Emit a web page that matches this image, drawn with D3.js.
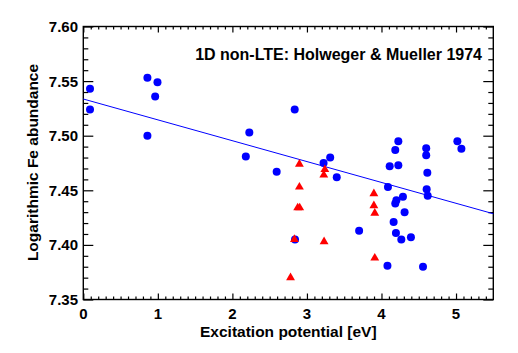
<!DOCTYPE html>
<html>
<head>
<meta charset="utf-8">
<script src="https://cdn.jsdelivr.net/npm/d3@7"></script>
<style>
  body { margin: 0; background: #fff; }
  text { font-family: "Liberation Sans", Arial, Helvetica, sans-serif; font-weight: bold; }
</style>
</head>
<body>
<script>
"use strict";
// blue circles: excitation potential [eV], log Fe abundance
const blueChi = [0.09, 0.09, 0.86, 0.995, 0.964, 0.86, 2.227, 2.18, 2.836, 2.594,
  3.223, 3.312, 3.40, 4.11, 4.226, 4.185, 4.226, 4.60, 4.60, 4.615,
  5.018, 5.072, 4.087, 4.606, 4.62, 4.288, 4.20, 4.185, 4.31, 4.163,
  3.70, 4.194, 4.266, 4.395, 2.84, 4.08, 4.557]
const blueAbund = [7.543, 7.524, 7.553, 7.549, 7.536, 7.500, 7.503, 7.481, 7.524, 7.467,
  7.475, 7.480, 7.462, 7.472, 7.473, 7.487, 7.495, 7.4885, 7.482, 7.466,
  7.495, 7.488, 7.453, 7.451, 7.445, 7.444, 7.441, 7.438, 7.430, 7.421,
  7.413, 7.411, 7.405, 7.407, 7.405, 7.381, 7.380]
// red triangles
const redChi = [2.899, 3.24, 3.226, 2.899, 2.876, 2.903, 2.832, 2.78, 3.23,
  3.898, 3.898, 3.91, 3.91]
const redAbund = [7.474, 7.469, 7.464, 7.453, 7.434, 7.434, 7.405, 7.370, 7.403,
  7.447, 7.436, 7.429, 7.388]
// linear fit of the blue points
const fitIntercept = 7.5336
const fitSlope = -0.0191
const xTicks = [0, 1, 2, 3, 4, 5]
const yTicks = [7.35, 7.40, 7.45, 7.50, 7.55, 7.60]
const title = "1D non-LTE: Holweger & Mueller 1974"

;(function(){
  let m = {width: 518, height: 353, left: 83.3, right: 493.3, top: 26.5, bottom: 299.5}

  const svg = d3.select("body").append("svg")
      .attr("width", m.width)
      .attr("height", m.height)

  let x = d3.scaleLinear().domain([0, 5.5]).range([m.left, m.right])
  let y = d3.scaleLinear().domain([7.35, 7.60]).range([m.bottom, m.top])

  // minor ticks
  let xMinor = d3.range(0, 55).map(i => i / 10).filter(v => Math.abs(v - Math.round(v)) > 1e-6)
  let yMinor = d3.range(735, 761).map(i => i / 100).filter(v => yTicks.every(t => Math.abs(t - v) > 1e-6))

  const gAx = svg.append("g").attr("stroke", "#000")
  // bottom
  gAx.append("g").attr("transform", `translate(0,${m.bottom})`)
    .call(d3.axisTop(x).tickValues(xTicks).tickSize(6).tickFormat(""))
  gAx.append("g").attr("transform", `translate(0,${m.bottom})`)
    .call(d3.axisTop(x).tickValues(xMinor).tickSize(3).tickFormat(""))
  // top
  gAx.append("g").attr("transform", `translate(0,${m.top})`)
    .call(d3.axisBottom(x).tickValues(xTicks).tickSize(6).tickFormat(""))
  gAx.append("g").attr("transform", `translate(0,${m.top})`)
    .call(d3.axisBottom(x).tickValues(xMinor).tickSize(3).tickFormat(""))
  // left
  gAx.append("g").attr("transform", `translate(${m.left},0)`)
    .call(d3.axisRight(y).tickValues(yTicks).tickSize(10).tickFormat(""))
  gAx.append("g").attr("transform", `translate(${m.left},0)`)
    .call(d3.axisRight(y).tickValues(yMinor).tickSize(5).tickFormat(""))
  // right
  gAx.append("g").attr("transform", `translate(${m.right},0)`)
    .call(d3.axisLeft(y).tickValues(yTicks).tickSize(10).tickFormat(""))
  gAx.append("g").attr("transform", `translate(${m.right},0)`)
    .call(d3.axisLeft(y).tickValues(yMinor).tickSize(5).tickFormat(""))
  gAx.selectAll(".domain").remove()
  gAx.selectAll("line").attr("stroke", "#000").attr("stroke-width", 1.2)

  svg.append("rect")
      .attr("x", m.left)
      .attr("y", m.top)
      .attr("width", m.right - m.left)
      .attr("height", m.bottom - m.top)
      .attr("fill", "none")
      .attr("stroke", "#000")
      .attr("stroke-width", 1.4)

  // tick labels
  svg.append("g").selectAll("text")
    .data(xTicks)
    .enter()
    .append("text")
      .attr("x", d => x(d))
      .attr("y", 318.5)
      .attr("text-anchor", "middle")
      .attr("font-size", "15px")
      .text(d => d)
  svg.append("g").selectAll("text")
    .data(yTicks)
    .enter()
    .append("text")
      .attr("x", 78)
      .attr("y", d => y(d) + 5.5)
      .attr("text-anchor", "end")
      .attr("font-size", "15px")
      .text(d => d3.format(".2f")(d))

  svg.append("text")
      .attr("x", x(2.75))
      .attr("y", 336.5)
      .attr("text-anchor", "middle")
      .attr("font-size", "15.5px")
      .text("Excitation potential [eV]")
  svg.append("text")
      .attr("transform", "translate(37.5,162.5) rotate(-90)")
      .attr("text-anchor", "middle")
      .attr("font-size", "15.5px")
      .text("Logarithmic Fe abundance")
  svg.append("text")
      .attr("x", 482)
      .attr("y", 60)
      .attr("text-anchor", "end")
      .attr("font-size", "16px")
      .text(title)

  // fit line
  let line = d3.line()
      .x(d => x(d))
      .y(d => y(fitIntercept + fitSlope * d))
  svg.append("path")
      .datum(x.domain())
      .attr("d", line)
      .attr("fill", "none")
      .attr("stroke", "#0000ff")
      .attr("stroke-width", 1)

  svg.append("g").selectAll("circle")
    .data(blueChi.map((c, i) => [c, blueAbund[i]]))
    .enter()
    .append("circle")
      .attr("cx", d => x(d[0]))
      .attr("cy", d => y(d[1]))
      .attr("r", 4)
      .attr("fill", "#0000ff")

  let tri = d3.symbol().type(d3.symbolTriangle).size(34)
  svg.append("g").selectAll("path")
    .data(redChi.map((c, i) => [c, redAbund[i]]))
    .enter()
    .append("path")
      .attr("d", tri)
      .attr("transform", d => `translate(${x(d[0])},${y(d[1])})`)
      .attr("fill", "#ff0000")
})();
</script>
</body>
</html>
